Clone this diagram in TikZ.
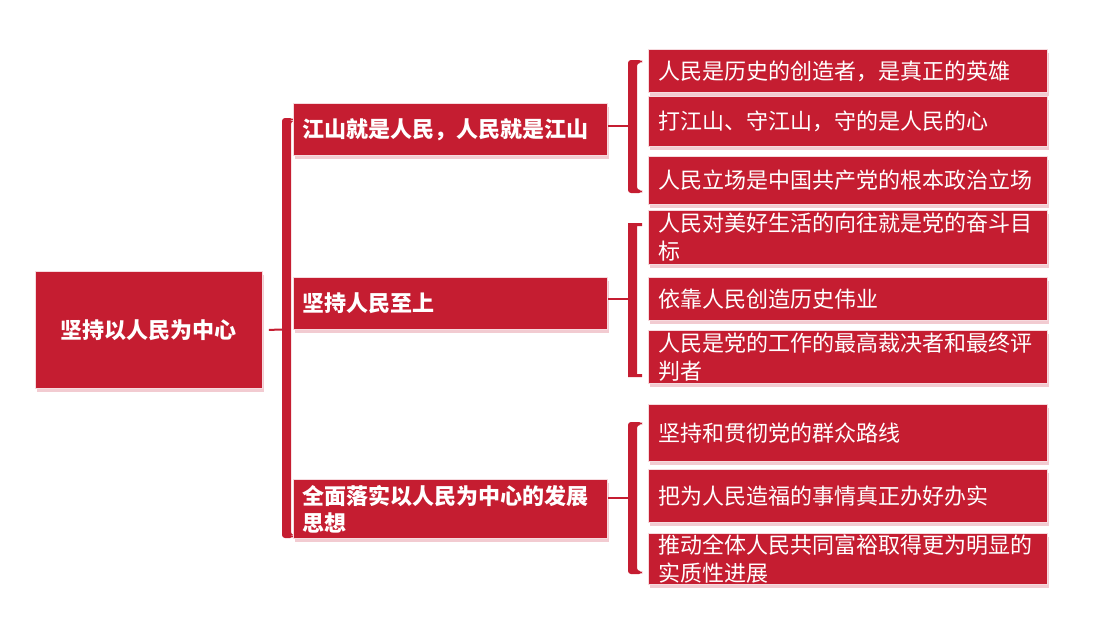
\documentclass[tikz,border=0pt]{standalone}
\usepackage{fontspec}
\setmainfont{Noto Sans CJK SC}
\usetikzlibrary{shadows}
\definecolor{brand}{RGB}{197,29,49}
\definecolor{edgec}{RGB}{246,218,222}
\definecolor{shade}{RGB}{226,140,152}
\begin{document}
\begin{tikzpicture}[x=1pt,y=-1pt,
  box/.style={fill=brand, draw=edgec, line width=0.8pt, text=white,
    drop shadow={shadow xshift=2pt, shadow yshift=-4pt, fill=shade, opacity=0.45},
    anchor=north west, inner ysep=0pt},
  rootbox/.style={box, minimum width=227pt, minimum height=117pt, align=center,
    font=\bfseries\fontsize{22pt}{28pt}\selectfont},
  midbox/.style={box, text width=296pt, inner xsep=9pt, align=left, minimum height=#1,
    font=\bfseries\fontsize{22pt}{27pt}\selectfont},
  leafbox/.style={box, text width=379pt, inner xsep=10pt, align=left, minimum height=#1,
    font=\fontsize{22pt}{28pt}\selectfont},
  tick/.style={draw=brand, line width=2pt},
  brk/.style={fill=brand, rounded corners=3pt}]
\useasboundingbox (0,0) rectangle (1099,637);

% brackets
\fill[brk] (293,118) -- (282,118) -- (282,538) -- (293,538) -- (293,535) -- (291,535) -- (291,121) -- (293,121) -- cycle;
\fill[brk] (642,60) -- (628,60) -- (628,193) -- (642,193) -- (642,190) -- (637,190) -- (637,63) -- (642,63) -- cycle;
\fill[brand] (642,223) -- (628,223) -- (628,377) -- (642,377) -- (642,374) -- (637,374) -- (637,226) -- (642,226) -- cycle;
\fill[brk] (642,422) -- (628,422) -- (628,574) -- (642,574) -- (642,571) -- (637,571) -- (637,425) -- (642,425) -- cycle;

\coordinate (b0) at (283,329.5);
\coordinate (b1) at (629,126);
\coordinate (b2) at (629,299);
\coordinate (b3) at (629,498);

% nodes
\node[rootbox] (root) at (35,271) {坚持以人民为中心};

\node[midbox=52pt] (m1) at (293,103) {江山就是人民，人民就是江山};
\node[midbox=52pt] (m2) at (293,277) {坚持人民至上};
\node[midbox=59pt] (m3) at (293,479) {全面落实以人民为中心的发展\\思想};

\node[leafbox=43pt] (l11) at (648,49) {人民是历史的创造者，是真正的英雄};
\node[leafbox=50pt] (l12) at (648,96) {打江山、守江山，守的是人民的心};
\node[leafbox=48pt] (l13) at (648,156) {人民立场是中国共产党的根本政治立场};

\node[leafbox=54pt] (l21) at (648,210) {人民对美好生活的向往就是党的奋斗目\\标};
\node[leafbox=43pt] (l22) at (648,277) {依靠人民创造历史伟业};
\node[leafbox=53pt] (l23) at (648,330) {人民是党的工作的最高裁决者和最终评\\判者};

\node[leafbox=57pt] (l31) at (648,404) {坚持和贯彻党的群众路线};
\node[leafbox=53pt] (l32) at (648,469) {把为人民造福的事情真正办好办实};
\node[leafbox=51pt] (l33) at (648,533) {推动全体人民共同富裕取得更为明显的\\实质性进展};

% ticks
\draw[tick] ([xshift=6pt]root.east) -- (b0);
\draw[tick] (m1.east |- b1) -- (b1);
\draw[tick] (m2.east |- b2) -- (b2);
\draw[tick] (m3.east |- b3) -- (b3);
\end{tikzpicture}
\end{document}
